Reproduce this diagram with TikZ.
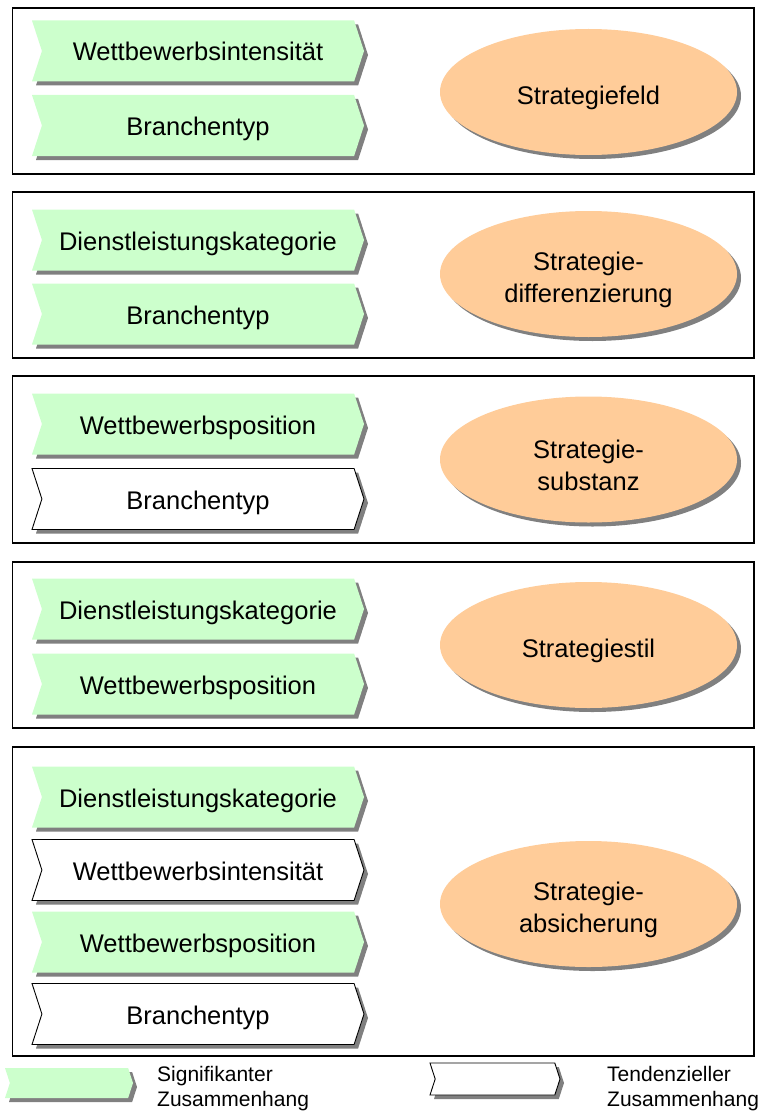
\documentclass[tikz,border=0pt]{standalone}
\usepackage{fontspec}
\setmainfont{Liberation Sans}
\usetikzlibrary{shapes.symbols,shapes.geometric,shadows}
\definecolor{siggreen}{HTML}{CCFFCC}
\definecolor{goalorange}{HTML}{FFCC99}
% invisible strut that lowers the text inside the ellipses
\newcommand{\goalstrut}{\rule{0pt}{30pt}}
\begin{document}
\begin{tikzpicture}[x=1pt,y=-1pt,
  panel/.style={draw=black,line width=1.4pt},
  greyshadow/.style={drop shadow={shadow xshift=4pt,shadow yshift=-4pt,fill=black!50,opacity=1}},
  arrowbox/.style={signal,signal to=east,signal from=west,signal pointer angle=144,
    minimum width=332pt,minimum height=61pt,inner sep=0pt,
    text height=20pt,text depth=0pt,font=\fontsize{25.5}{31}\selectfont,greyshadow},
  sigbox/.style={arrowbox,fill=siggreen,draw=none},
  tendbox/.style={arrowbox,fill=white,draw=black,line width=0.9pt},
  goal/.style={ellipse,fill=goalorange,minimum width=297pt,minimum height=126pt,inner sep=0pt,
    align=center,font=\fontsize{25.5}{31.5}\selectfont,greyshadow},
  legtext/.style={anchor=west,align=left,inner sep=0pt,font=\fontsize{21}{25}\selectfont}
]
\useasboundingbox (0,0) rectangle (761,1113);

% panels
\draw[panel] (12.5,8) rectangle (754,174);
\draw[panel] (12.5,192) rectangle (754,358);
\draw[panel] (12.5,376) rectangle (754,543);
\draw[panel] (12.5,562) rectangle (754,728);
\draw[panel] (12.5,747) rectangle (754,1056);

% panel 1
\node[sigbox] (p1a) at (198,51) {Wettbewerbsintensität};
\node[sigbox] (p1b) at (198,125.5) {Branchentyp};
\node[goal] (g1) at (588.5,92) {\goalstrut Strategiefeld};

% panel 2
\node[sigbox] (p2a) at (198,240) {Dienstleistungskategorie};
\node[sigbox] (p2b) at (198,314) {Branchentyp};
\node[goal] (g2) at (588.5,274) {\goalstrut Strategie-\\differenzierung};

% panel 3
\node[sigbox] (p3a) at (198,424) {Wettbewerbsposition};
\node[tendbox] (p3b) at (198,499) {Branchentyp};
\node[goal] (g3) at (588.5,459.5) {\goalstrut Strategie-\\substanz};

% panel 4
\node[sigbox] (p4a) at (198,609) {Dienstleistungskategorie};
\node[sigbox] (p4b) at (198,684) {Wettbewerbsposition};
\node[goal] (g4) at (588.5,645) {\goalstrut Strategiestil};

% panel 5
\node[sigbox] (p5a) at (198,797) {Dienstleistungskategorie};
\node[tendbox] (p5b) at (198,870) {Wettbewerbsintensität};
\node[sigbox] (p5c) at (198,942) {Wettbewerbsposition};
\node[tendbox] (p5d) at (198,1014) {Branchentyp};
\node[goal] (g5) at (588.5,904) {\goalstrut Strategie-\\absicherung};

% legend
\node[sigbox,minimum width=128pt,minimum height=30pt] (legsig) at (69,1083) {};
\node[legtext] (legsigtext) at (157,1089) {Signifikanter\\Zusammenhang};
\node[tendbox,minimum width=130pt,minimum height=32pt] (legtend) at (495,1079) {};
\node[legtext] (legtendtext) at (607,1089) {Tendenzieller\\Zusammenhang};
\end{tikzpicture}
\end{document}
